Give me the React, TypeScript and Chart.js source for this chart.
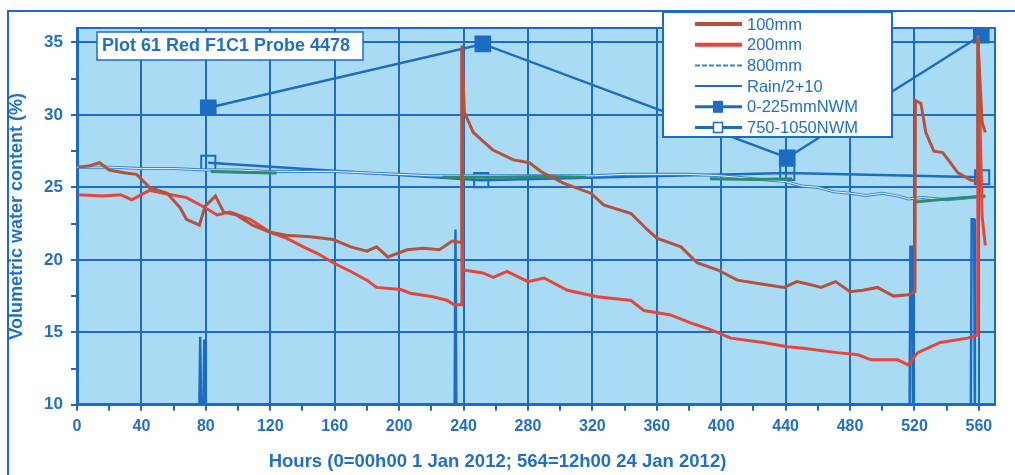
import React, { useEffect, useRef } from "react";
import { Chart, registerables } from "chart.js";

Chart.register(...registerables);

const FONT = "'Liberation Sans', Arial, Helvetica, sans-serif";
const BLUE = "#1c6cc6";
const TEXT = "#2270c4";
const PLOT_BG = "#a9dbf5";

const chartTitle = "Plot 61 Red F1C1 Probe 4478";
const xAxisTitle = "Hours (0=00h00 1 Jan 2012; 564=12h00 24 Jan 2012)";
const yAxisTitle = "Volumetric water content (%)";

const xTickLabels = [0, 40, 80, 120, 160, 200, 240, 280, 320, 360, 400, 440, 480, 520, 560];
const yTickLabels = [10, 15, 20, 25, 30, 35];

const seriesNames = ["100mm", "200mm", "800mm", "Rain/2+10", "0-225mmNWM", "750-1050NWM"];

const hours100 = [0.7, 8, 14, 20, 30, 37, 45, 56, 64, 68, 76, 79.5, 86, 91, 99, 109, 120, 130, 145, 159, 170, 180, 186, 193, 205, 215, 225, 233, 238.6, 239, 240.5, 246, 258, 271, 281, 288, 302, 319, 327, 344, 354, 360, 375, 385, 398, 410, 427, 439, 447, 455, 462, 471, 480, 488, 497, 507, 516, 520.3, 520.6, 524, 527, 532, 537.5, 541, 547, 555, 559, 559.3, 562, 564];
const vwc100 = [26.4, 26.5, 26.7, 26.2, 26.0, 25.9, 25.0, 24.6, 23.6, 22.8, 22.4, 23.7, 24.4, 23.3, 23.1, 22.4, 21.9, 21.7, 21.6, 21.4, 20.9, 20.6, 20.9, 20.2, 20.7, 20.8, 20.7, 21.3, 21.2, 34.8, 30.2, 28.8, 27.6, 26.9, 26.7, 26.1, 25.3, 24.6, 23.8, 23.2, 22.1, 21.5, 20.9, 19.8, 19.3, 18.6, 18.3, 18.1, 18.5, 18.3, 18.1, 18.5, 17.8, 17.9, 18.1, 17.5, 17.6, 17.8, 31.0, 30.8, 28.8, 27.5, 27.4, 26.9, 26.0, 25.5, 25.4, 35.3, 29.5, 28.8];

const hours200 = [0.7, 16, 27, 34, 40, 45, 53.5, 68, 78, 87, 95, 107.5, 120, 130, 140.6, 150, 159, 170, 180, 186, 201, 207, 221, 230, 234, 238.7, 239, 239.3, 240, 252, 258.5, 267, 280, 290, 304.5, 323, 344, 352, 368.5, 381, 393, 406, 426, 441, 451, 472, 485, 493, 509.6, 516, 522, 530, 536, 553, 559.2, 559.5, 562, 564];
const vwc200 = [24.5, 24.4, 24.5, 24.15, 24.5, 24.8, 24.6, 24.3, 23.7, 23.1, 23.3, 22.8, 21.9, 21.5, 20.9, 20.4, 19.8, 19.2, 18.6, 18.1, 17.95, 17.7, 17.45, 17.2, 16.9, 16.9, 34.5, 19.3, 19.3, 19.1, 18.8, 19.2, 18.5, 18.75, 17.9, 17.45, 17.2, 16.5, 16.2, 15.65, 15.2, 14.6, 14.3, 14.0, 13.9, 13.6, 13.45, 13.1, 13.1, 12.75, 13.6, 14.0, 14.3, 14.6, 14.8, 35.5, 23.0, 21.0];

const hours800 = [0, 20, 40, 60, 80, 100, 120, 140, 160, 180, 200, 220, 240, 260, 280, 300, 320, 340, 360, 380, 400, 420, 440, 450, 460, 470, 480, 490, 500, 510, 516, 525, 540, 555, 564];
const vwc800 = [26.4, 26.4, 26.3, 26.3, 26.2, 26.2, 26.1, 26.1, 26.1, 26.0, 25.9, 25.8, 25.8, 25.8, 25.8, 25.8, 25.8, 25.9, 25.9, 25.9, 25.8, 25.6, 25.4, 25.1, 25.0, 24.7, 24.6, 24.45, 24.6, 24.4, 24.2, 24.3, 24.15, 24.3, 24.4];

const hoursRain = [0, 76, 76.5, 77, 78.5, 79, 79.5, 234.5, 235, 235.5, 517, 517.5, 518.5, 519, 555, 555.5, 557, 557.5, 570];
const rainScaled = [10, 10, 14.7, 10, 10, 14.5, 10, 10, 22.1, 10, 10, 20.9, 20.9, 10, 10, 22.8, 22.8, 10, 10];

const hoursNwmTop = [81.5, 252, 441, 561.5];
const nwmTop = [30.5, 34.9, 27.05, 35.5];

const hoursNwmDeep = [81.5, 251, 441, 562];
const nwmDeep = [26.7, 25.5, 26.0, 25.7];

const hoursGreen = [83, 100, 124, 125, 227, 260, 290, 316, 317, 393, 420, 444, 445, 520, 540, 564];
const vwcGreen = [26.1, 26.05, 26.0, null, 25.7, 25.7, 25.75, 25.7, null, 25.6, 25.55, 25.6, null, 24.0, 24.2, 24.4];

const toXY = (xs: number[], ys: (number | null)[]) => xs.map((x, i) => ({ x, y: ys[i] }));

const decorPlugin = {
  id: "decor",
  beforeDraw(chart: any) {
    const { ctx, chartArea: a, width, height } = chart;
    ctx.save();
    ctx.fillStyle = "#ffffff";
    ctx.fillRect(0, 0, width, height);
    ctx.fillStyle = PLOT_BG;
    ctx.fillRect(a.left, a.top, a.right - a.left, a.bottom - a.top);
    ctx.restore();
  },
  afterDraw(chart: any) {
    const { ctx, chartArea: a } = chart;
    ctx.save();
    ctx.strokeStyle = BLUE;
    ctx.lineWidth = 2;
    ctx.beginPath();
    ctx.moveTo(a.left, a.top);
    ctx.lineTo(a.right, a.top);
    ctx.lineTo(a.right, a.bottom);
    ctx.stroke();
    ctx.lineWidth = 2;
    ctx.strokeRect(8, 11, 1200, 700);

    ctx.fillStyle = "#ffffff";
    ctx.fillRect(97, 32, 266, 28);
    ctx.strokeStyle = BLUE;
    ctx.lineWidth = 1.5;
    ctx.strokeRect(97, 32, 266, 28);
    ctx.fillStyle = TEXT;
    ctx.font = `bold 18px ${FONT}`;
    ctx.textBaseline = "middle";
    ctx.textAlign = "left";
    ctx.fillText(chartTitle, 102, 46.5);

    const lx = 663, ly = 12, lw = 229, lh = 125;
    ctx.fillStyle = "#ffffff";
    ctx.fillRect(lx, ly, lw, lh);
    ctx.strokeStyle = BLUE;
    ctx.lineWidth = 2;
    ctx.strokeRect(lx, ly, lw, lh);

    const items = chart.data.datasets.filter((d: any) => d.legendRow !== undefined);
    items.sort((p: any, q: any) => p.legendRow - q.legendRow);
    ctx.font = `16.5px ${FONT}`;
    items.forEach((d: any) => {
      const y = 24 + d.legendRow * 20.7;
      ctx.save();
      ctx.strokeStyle = d.legendColor || d.borderColor;
      ctx.lineWidth = d.legendWidth || 2;
      if (d.legendDash) ctx.setLineDash(d.legendDash);
      ctx.beginPath();
      ctx.moveTo(695, y);
      ctx.lineTo(742, y);
      ctx.stroke();
      ctx.setLineDash([]);
      if (d.pointRadius > 0) {
        ctx.lineWidth = 1.5;
        if (d.legendFilled) {
          ctx.fillStyle = BLUE;
          ctx.fillRect(713, y - 6, 10, 12);
        } else {
          ctx.fillStyle = "#ffffff";
          ctx.fillRect(713.5, y - 5, 9, 10);
          ctx.strokeRect(713.5, y - 5, 9, 10);
        }
      }
      ctx.restore();
      ctx.fillStyle = TEXT;
      ctx.textBaseline = "middle";
      ctx.textAlign = "left";
      ctx.fillText(d.label, 747, y + 1);
    });
    ctx.restore();
  },
};

export default function App() {
  const ref = useRef<HTMLCanvasElement | null>(null);
  useEffect(() => {
    if (!ref.current) return;
    const datasets: any[] = [
      {
        label: seriesNames[0], data: toXY(hours100, vwc100), borderColor: "#b5523e", borderWidth: 3,
        pointRadius: 0, tension: 0, legendRow: 0, legendWidth: 4,
      },
      {
        label: seriesNames[1], data: toXY(hours200, vwc200), borderColor: "#e4473a", borderWidth: 3,
        pointRadius: 0, tension: 0, legendRow: 1, legendWidth: 4,
      },
      {
        label: "", data: toXY(hoursGreen, vwcGreen), borderColor: "#2b8c6e", borderWidth: 3,
        pointRadius: 0, spanGaps: false,
      },
      {
        label: "", data: toXY(hours800, vwc800), borderColor: "#e8f5fd", borderWidth: 1,
        pointRadius: 0,
      },
      {
        label: seriesNames[2], data: toXY(hours800, vwc800), borderColor: "#3a84cf", borderWidth: 3,
        pointRadius: 0, legendRow: 2, legendWidth: 2, legendDash: [5, 2],
      },
      {
        label: seriesNames[4], data: toXY(hoursNwmTop, nwmTop), borderColor: BLUE, borderWidth: 2.5,
        pointStyle: "rect", pointRadius: 10, pointBackgroundColor: BLUE, pointBorderColor: BLUE,
        legendRow: 4, legendWidth: 3, legendFilled: true,
      },
      {
        label: seriesNames[5], data: toXY(hoursNwmDeep, nwmDeep), borderColor: BLUE, borderWidth: 2.5,
        pointStyle: "rect", pointRadius: 10, pointBackgroundColor: "rgba(0,0,0,0)", pointBorderColor: BLUE,
        pointBorderWidth: 2, legendRow: 5, legendWidth: 3, legendFilled: false,
      },
      {
        label: seriesNames[3], data: toXY(hoursRain, rainScaled), borderColor: BLUE, borderWidth: 2.5,
        pointRadius: 0, legendRow: 3, legendWidth: 2,
      },
    ];

    const chart = new Chart(ref.current, {
      type: "line",
      data: { datasets },
      plugins: [decorPlugin],
      options: {
        responsive: false,
        animation: false,
        events: [],
        layout: { padding: { top: 28, right: 20, left: 0, bottom: 0 } },
        plugins: {
          legend: { display: false },
          tooltip: { enabled: false },
          title: {
            display: true,
            text: xAxisTitle,
            position: "bottom",
            color: TEXT,
            font: { family: FONT, size: 18.5, weight: "bold" },
            padding: { top: 0, bottom: 2 },
          },
        },
        scales: {
          x: {
            type: "linear",
            min: 0,
            max: 570,
            afterFit: (s: any) => { s.height = 46; },
            border: { display: true, color: BLUE, width: 3 },
            grid: {
              color: (c: any) => (c.tick && xTickLabels.includes(c.tick.value) ? BLUE : "rgba(0,0,0,0)"),
              tickColor: BLUE,
              lineWidth: 2,
              tickWidth: 2,
              tickLength: 6,
            },
            ticks: {
              stepSize: 20,
              includeBounds: false,
              autoSkip: false,
              maxRotation: 0,
              padding: 6,
              color: TEXT,
              font: { family: FONT, size: 16, weight: "bold" },
              callback: (v: any) => (xTickLabels.includes(Number(v)) ? String(v) : ""),
            },
          },
          y: {
            type: "linear",
            min: 10,
            max: 36,
            afterFit: (s: any) => { s.width = 77; },
            border: { display: true, color: BLUE, width: 3 },
            grid: {
              color: (c: any) => (c.tick && yTickLabels.includes(c.tick.value) ? BLUE : "rgba(0,0,0,0)"),
              tickColor: BLUE,
              lineWidth: 2,
              tickWidth: 2,
              tickLength: 6,
            },
            title: {
              display: true,
              text: yAxisTitle,
              color: TEXT,
              font: { family: FONT, size: 18, weight: "bold" },
              padding: { top: 6, bottom: 0 },
            },
            ticks: {
              stepSize: 2.5,
              includeBounds: false,
              autoSkip: false,
              padding: 8,
              color: TEXT,
              font: { family: FONT, size: 17, weight: "bold" },
              callback: (v: any) => (yTickLabels.includes(Number(v)) ? String(v) : ""),
            },
          },
        },
      } as any,
    });
    return () => chart.destroy();
  }, []);

  return (
    <div style={{ position: "fixed", left: 0, top: 0, width: 1015, height: 475, background: "#fff" }}>
      <canvas ref={ref} width={1015} height={475} style={{ display: "block", width: 1015, height: 475 }} />
    </div>
  );
}
